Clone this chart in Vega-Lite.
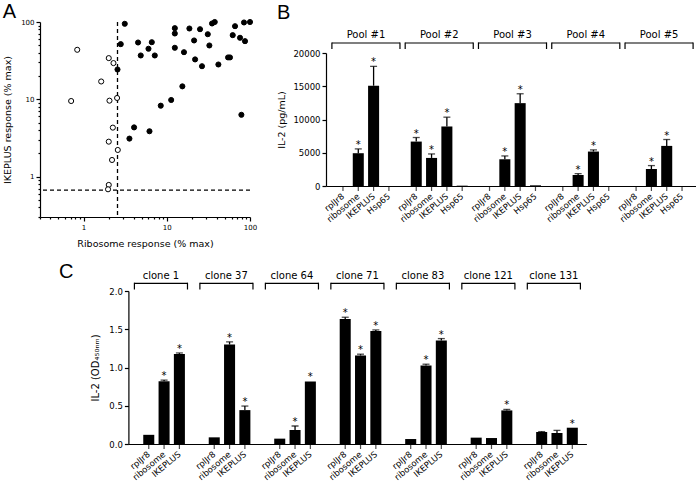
{
  "$schema": "https://vega.github.io/schema/vega-lite/v6.json",
  "padding": {"left": 2, "top": 1, "right": 0, "bottom": 0},
  "config": {
    "view": {"stroke": null},
    "font": "DejaVu Sans",
    "axis": {"grid": false, "domainColor": "black", "domainWidth": 1.2, "tickColor": "black", "tickWidth": 1.2, "labelColor": "black", "titleColor": "black", "labelFont": "DejaVu Sans", "titleFont": "DejaVu Sans", "titleFontWeight": "normal", "labelFontSize": 8, "titleFontSize": 9.5},
    "title": {"font": "Liberation Sans", "fontSize": 20, "fontWeight": "normal", "anchor": "start", "frame": "bounds", "color": "black", "baseline": "alphabetic"},
    "text": {"font": "DejaVu Sans", "color": "black"}
  },
  "datasets": {
    "scatter": [
      {"ribosome": 0.84, "ikeplus": 43.7, "group": "open"},
      {"ribosome": 0.71, "ikeplus": 9.5, "group": "open"},
      {"ribosome": 2.01, "ikeplus": 34.1, "group": "open"},
      {"ribosome": 2.29, "ikeplus": 29.4, "group": "open"},
      {"ribosome": 1.63, "ikeplus": 17.0, "group": "open"},
      {"ribosome": 2.05, "ikeplus": 9.6, "group": "open"},
      {"ribosome": 2.53, "ikeplus": 10.4, "group": "open"},
      {"ribosome": 2.25, "ikeplus": 4.3, "group": "open"},
      {"ribosome": 2.01, "ikeplus": 2.83, "group": "open"},
      {"ribosome": 2.58, "ikeplus": 2.21, "group": "open"},
      {"ribosome": 2.2, "ikeplus": 1.64, "group": "open"},
      {"ribosome": 2.01, "ikeplus": 0.78, "group": "open"},
      {"ribosome": 1.97, "ikeplus": 0.685, "group": "open"},
      {"ribosome": 3.13, "ikeplus": 94.8, "group": "filled"},
      {"ribosome": 2.8, "ikeplus": 51.7, "group": "filled"},
      {"ribosome": 2.56, "ikeplus": 24.3, "group": "filled"},
      {"ribosome": 4.52, "ikeplus": 54.3, "group": "filled"},
      {"ribosome": 4.87, "ikeplus": 36.9, "group": "filled"},
      {"ribosome": 6.03, "ikeplus": 45.1, "group": "filled"},
      {"ribosome": 6.61, "ikeplus": 54.8, "group": "filled"},
      {"ribosome": 7.18, "ikeplus": 36.9, "group": "filled"},
      {"ribosome": 12.5, "ikeplus": 83.2, "group": "filled"},
      {"ribosome": 12.5, "ikeplus": 71.0, "group": "filled"},
      {"ribosome": 12.5, "ikeplus": 46.4, "group": "filled"},
      {"ribosome": 16.1, "ikeplus": 40.7, "group": "filled"},
      {"ribosome": 18.7, "ikeplus": 82.4, "group": "filled"},
      {"ribosome": 21.3, "ikeplus": 57.7, "group": "filled"},
      {"ribosome": 25.1, "ikeplus": 80.7, "group": "filled"},
      {"ribosome": 21.9, "ikeplus": 32.8, "group": "filled"},
      {"ribosome": 26.5, "ikeplus": 26.8, "group": "filled"},
      {"ribosome": 31.1, "ikeplus": 69.5, "group": "filled"},
      {"ribosome": 32.5, "ikeplus": 49.7, "group": "filled"},
      {"ribosome": 35.0, "ikeplus": 95.7, "group": "filled"},
      {"ribosome": 37.7, "ikeplus": 100, "group": "filled"},
      {"ribosome": 41.7, "ikeplus": 28.2, "group": "filled"},
      {"ribosome": 54.5, "ikeplus": 34.8, "group": "filled"},
      {"ribosome": 57.5, "ikeplus": 34.8, "group": "filled"},
      {"ribosome": 62.0, "ikeplus": 67.6, "group": "filled"},
      {"ribosome": 66.1, "ikeplus": 88.3, "group": "filled"},
      {"ribosome": 75.9, "ikeplus": 62.5, "group": "filled"},
      {"ribosome": 84.7, "ikeplus": 98.6, "group": "filled"},
      {"ribosome": 87.1, "ikeplus": 56.5, "group": "filled"},
      {"ribosome": 100, "ikeplus": 100, "group": "filled"},
      {"ribosome": 78.8, "ikeplus": 6.3, "group": "filled"},
      {"ribosome": 15.4, "ikeplus": 14.7, "group": "filled"},
      {"ribosome": 11.3, "ikeplus": 9.8, "group": "filled"},
      {"ribosome": 8.47, "ikeplus": 8.27, "group": "filled"},
      {"ribosome": 4.05, "ikeplus": 4.33, "group": "filled"},
      {"ribosome": 6.2, "ikeplus": 3.86, "group": "filled"},
      {"ribosome": 3.56, "ikeplus": 3.1, "group": "filled"}
    ],
    "cutoffs": [{"ribosome_cutoff": 2.56, "ikeplus_cutoff": 0.67}],
    "pools": [
      {"pool": "Pool #1", "antigen": "rplJr8", "il2": 0, "upper": 0, "sig": false},
      {"pool": "Pool #1", "antigen": "ribosome", "il2": 4930, "upper": 5580, "sig": true},
      {"pool": "Pool #1", "antigen": "IKEPLUS", "il2": 15080, "upper": 17990, "sig": true},
      {"pool": "Pool #1", "antigen": "Hsp65", "il2": 0, "upper": 0, "sig": false},
      {"pool": "Pool #2", "antigen": "rplJr8", "il2": 6680, "upper": 7290, "sig": true},
      {"pool": "Pool #2", "antigen": "ribosome", "il2": 4220, "upper": 4820, "sig": true},
      {"pool": "Pool #2", "antigen": "IKEPLUS", "il2": 8950, "upper": 10350, "sig": true},
      {"pool": "Pool #2", "antigen": "Hsp65", "il2": 50, "upper": 50, "sig": false},
      {"pool": "Pool #3", "antigen": "rplJr8", "il2": 0, "upper": 0, "sig": false},
      {"pool": "Pool #3", "antigen": "ribosome", "il2": 4020, "upper": 4520, "sig": true},
      {"pool": "Pool #3", "antigen": "IKEPLUS", "il2": 12460, "upper": 13870, "sig": true},
      {"pool": "Pool #3", "antigen": "Hsp65", "il2": 100, "upper": 100, "sig": false},
      {"pool": "Pool #4", "antigen": "rplJr8", "il2": 0, "upper": 0, "sig": false},
      {"pool": "Pool #4", "antigen": "ribosome", "il2": 1660, "upper": 1860, "sig": true},
      {"pool": "Pool #4", "antigen": "IKEPLUS", "il2": 5180, "upper": 5430, "sig": true},
      {"pool": "Pool #4", "antigen": "Hsp65", "il2": 0, "upper": 0, "sig": false},
      {"pool": "Pool #5", "antigen": "rplJr8", "il2": 0, "upper": 0, "sig": false},
      {"pool": "Pool #5", "antigen": "ribosome", "il2": 2560, "upper": 3070, "sig": true},
      {"pool": "Pool #5", "antigen": "IKEPLUS", "il2": 6030, "upper": 6990, "sig": true},
      {"pool": "Pool #5", "antigen": "Hsp65", "il2": 0, "upper": 0, "sig": false}
    ],
    "clones": [
      {"clone": "clone 1", "antigen": "rplJr8", "od": 0.12, "upper": 0.12, "sig": false},
      {"clone": "clone 1", "antigen": "ribosome", "od": 0.82, "upper": 0.835, "sig": true},
      {"clone": "clone 1", "antigen": "IKEPLUS", "od": 1.178, "upper": 1.19, "sig": true},
      {"clone": "clone 37", "antigen": "rplJr8", "od": 0.087, "upper": 0.087, "sig": false},
      {"clone": "clone 37", "antigen": "ribosome", "od": 1.3, "upper": 1.335, "sig": true},
      {"clone": "clone 37", "antigen": "IKEPLUS", "od": 0.443, "upper": 0.496, "sig": true},
      {"clone": "clone 64", "antigen": "rplJr8", "od": 0.07, "upper": 0.07, "sig": false},
      {"clone": "clone 64", "antigen": "ribosome", "od": 0.183, "upper": 0.235, "sig": true},
      {"clone": "clone 64", "antigen": "IKEPLUS", "od": 0.817, "upper": 0.817, "sig": true},
      {"clone": "clone 71", "antigen": "rplJr8", "od": 1.635, "upper": 1.657, "sig": true},
      {"clone": "clone 71", "antigen": "ribosome", "od": 1.157, "upper": 1.174, "sig": true},
      {"clone": "clone 71", "antigen": "IKEPLUS", "od": 1.478, "upper": 1.491, "sig": true},
      {"clone": "clone 83", "antigen": "rplJr8", "od": 0.065, "upper": 0.065, "sig": false},
      {"clone": "clone 83", "antigen": "ribosome", "od": 1.026, "upper": 1.043, "sig": true},
      {"clone": "clone 83", "antigen": "IKEPLUS", "od": 1.352, "upper": 1.378, "sig": true},
      {"clone": "clone 121", "antigen": "rplJr8", "od": 0.083, "upper": 0.083, "sig": false},
      {"clone": "clone 121", "antigen": "ribosome", "od": 0.078, "upper": 0.078, "sig": false},
      {"clone": "clone 121", "antigen": "IKEPLUS", "od": 0.439, "upper": 0.452, "sig": true},
      {"clone": "clone 131", "antigen": "rplJr8", "od": 0.157, "upper": 0.162, "sig": false},
      {"clone": "clone 131", "antigen": "ribosome", "od": 0.143, "upper": 0.178, "sig": false},
      {"clone": "clone 131", "antigen": "IKEPLUS", "od": 0.213, "upper": 0.213, "sig": true}
    ]
  },
  "spacing": 14,
  "vconcat": [
    {
      "spacing": 19,
      "hconcat": [
        {
          "title": {"text": "A", "offset": -4.5},
          "width": 210,
          "height": 195,
          "layer": [
            {
              "data": {"name": "cutoffs"},
              "mark": {"type": "rule", "strokeDash": [4, 3], "strokeWidth": 1.3, "color": "black"},
              "encoding": {
                "x": {"field": "ribosome_cutoff", "type": "quantitative", "scale": {"type": "log", "domain": [0.3, 100], "nice": false},
                  "axis": {"title": "Ribosome response (% max)", "values": [0.3,0.4,0.5,0.6,0.7,0.8,0.9,1,2,3,4,5,6,7,8,9,10,20,30,40,50,60,70,80,90,100], "labelExpr": "datum.value == 1 || datum.value == 10 || datum.value == 100 ? datum.label : ''", "tickSize": {"condition": {"test": "datum.value == 1 || datum.value == 10 || datum.value == 100", "value": 4}, "value": 2}, "labelFontSize": 7, "labelOverlap": false, "labelFlush": false, "titlePadding": 8}}
              }
            },
            {
              "data": {"name": "cutoffs"},
              "mark": {"type": "rule", "strokeDash": [4, 3], "strokeWidth": 1.3, "color": "black"},
              "encoding": {
                "y": {"field": "ikeplus_cutoff", "type": "quantitative", "scale": {"type": "log", "domain": [0.3, 100], "nice": false},
                  "axis": {"title": "IKEPLUS response (% max)", "values": [0.3,0.4,0.5,0.6,0.7,0.8,0.9,1,2,3,4,5,6,7,8,9,10,20,30,40,50,60,70,80,90,100], "labelExpr": "datum.value == 1 || datum.value == 10 || datum.value == 100 ? datum.label : ''", "tickSize": {"condition": {"test": "datum.value == 1 || datum.value == 10 || datum.value == 100", "value": 4}, "value": 2}, "labelFontSize": 7, "labelOverlap": false, "labelFlush": false, "titlePadding": 8}}
              }
            },
            {
              "data": {"name": "scatter"},
              "mark": {"type": "circle", "size": 26, "stroke": "black", "strokeWidth": 1, "opacity": 1},
              "encoding": {
                "x": {"field": "ribosome", "type": "quantitative", "scale": {"type": "log", "domain": [0.3, 100], "nice": false},
                  "axis": {"title": "Ribosome response (% max)", "values": [0.3,0.4,0.5,0.6,0.7,0.8,0.9,1,2,3,4,5,6,7,8,9,10,20,30,40,50,60,70,80,90,100], "labelExpr": "datum.value == 1 || datum.value == 10 || datum.value == 100 ? datum.label : ''", "tickSize": {"condition": {"test": "datum.value == 1 || datum.value == 10 || datum.value == 100", "value": 4}, "value": 2}, "labelFontSize": 7, "labelOverlap": false, "labelFlush": false, "titlePadding": 8}},
                "y": {"field": "ikeplus", "type": "quantitative", "scale": {"type": "log", "domain": [0.3, 100], "nice": false},
                  "axis": {"title": "IKEPLUS response (% max)", "values": [0.3,0.4,0.5,0.6,0.7,0.8,0.9,1,2,3,4,5,6,7,8,9,10,20,30,40,50,60,70,80,90,100], "labelExpr": "datum.value == 1 || datum.value == 10 || datum.value == 100 ? datum.label : ''", "tickSize": {"condition": {"test": "datum.value == 1 || datum.value == 10 || datum.value == 100", "value": 4}, "value": 2}, "labelFontSize": 7, "labelOverlap": false, "labelFlush": false, "titlePadding": 8}},
                "fill": {"field": "group", "type": "nominal", "scale": {"domain": ["filled", "open"], "range": ["black", "white"]}, "legend": null}
              }
            }
          ]
        },
        {
          "title": {"text": "B", "offset": -1},
          "width": 373,
          "height": 164,
          "data": {"name": "pools"},
          "layer": [
            {
              "mark": {"type": "bar", "color": "black"},
              "encoding": {
                "x": {"field": "pool", "type": "nominal", "sort": ["Pool #1", "Pool #2", "Pool #3", "Pool #4", "Pool #5"], "scale": {"paddingInner": 0.164, "paddingOuter": 0.127}, "axis": {"title": null, "labels": false, "ticks": false, "domain": true}},
                "xOffset": {"field": "antigen", "type": "nominal", "sort": ["rplJr8", "ribosome", "IKEPLUS", "Hsp65"], "scale": {"paddingInner": 0.28, "paddingOuter": 0.14}},
                "y": {"field": "il2", "type": "quantitative", "scale": {"domain": [0, 20000], "nice": false, "range": [164, 31]}, "axis": {"title": "IL-2 (pg/mL)", "values": [0, 5000, 10000, 15000, 20000], "format": "d", "tickSize": 4, "labelFontSize": 8.5, "titlePadding": 6, "labelOverlap": false}}
              }
            },
            {
              "transform": [{"filter": "datum.upper > datum.il2"}],
              "mark": {"type": "rule", "color": "black", "strokeWidth": 1.3},
              "encoding": {
                "x": {"field": "pool", "type": "nominal", "sort": ["Pool #1", "Pool #2", "Pool #3", "Pool #4", "Pool #5"], "axis": {"title": null, "labels": false, "ticks": false, "domain": true}},
                "xOffset": {"field": "antigen", "type": "nominal", "sort": ["rplJr8", "ribosome", "IKEPLUS", "Hsp65"]},
                "y": {"field": "il2", "type": "quantitative", "scale": {"domain": [0, 20000], "nice": false, "range": [164, 31]}, "axis": {"title": "IL-2 (pg/mL)", "values": [0, 5000, 10000, 15000, 20000], "format": "d", "tickSize": 4, "labelFontSize": 8.5, "titlePadding": 6, "labelOverlap": false}},
                "y2": {"field": "upper"}
              }
            },
            {
              "transform": [{"filter": "datum.upper > datum.il2"}],
              "mark": {"type": "tick", "orient": "horizontal", "color": "black", "size": 7, "thickness": 1.3},
              "encoding": {
                "x": {"field": "pool", "type": "nominal", "sort": ["Pool #1", "Pool #2", "Pool #3", "Pool #4", "Pool #5"], "axis": {"title": null, "labels": false, "ticks": false, "domain": true}},
                "xOffset": {"field": "antigen", "type": "nominal", "sort": ["rplJr8", "ribosome", "IKEPLUS", "Hsp65"]},
                "y": {"field": "upper", "type": "quantitative", "scale": {"domain": [0, 20000], "nice": false, "range": [164, 31]}, "axis": {"title": "IL-2 (pg/mL)", "values": [0, 5000, 10000, 15000, 20000], "format": "d", "tickSize": 4, "labelFontSize": 8.5, "titlePadding": 6, "labelOverlap": false}}
              }
            },
            {
              "transform": [{"filter": "datum.sig"}],
              "mark": {"type": "text", "text": "*", "fontSize": 10, "baseline": "alphabetic", "yOffset": -1, "color": "black"},
              "encoding": {
                "x": {"field": "pool", "type": "nominal", "sort": ["Pool #1", "Pool #2", "Pool #3", "Pool #4", "Pool #5"], "axis": {"title": null, "labels": false, "ticks": false, "domain": true}},
                "xOffset": {"field": "antigen", "type": "nominal", "sort": ["rplJr8", "ribosome", "IKEPLUS", "Hsp65"]},
                "y": {"field": "upper", "type": "quantitative", "scale": {"domain": [0, 20000], "nice": false, "range": [164, 31]}, "axis": {"title": "IL-2 (pg/mL)", "values": [0, 5000, 10000, 15000, 20000], "format": "d", "tickSize": 4, "labelFontSize": 8.5, "titlePadding": 6, "labelOverlap": false}}
              }
            },
            {
              "mark": {"type": "tick", "orient": "vertical", "color": "black", "size": 5, "thickness": 1.2, "yOffset": 2.5},
              "encoding": {
                "x": {"field": "pool", "type": "nominal", "sort": ["Pool #1", "Pool #2", "Pool #3", "Pool #4", "Pool #5"], "axis": {"title": null, "labels": false, "ticks": false, "domain": true}},
                "xOffset": {"field": "antigen", "type": "nominal", "sort": ["rplJr8", "ribosome", "IKEPLUS", "Hsp65"]},
                "y": {"datum": 0, "type": "quantitative", "scale": {"domain": [0, 20000], "nice": false, "range": [164, 31]}, "axis": {"title": "IL-2 (pg/mL)", "values": [0, 5000, 10000, 15000, 20000], "format": "d", "tickSize": 4, "labelFontSize": 8.5, "titlePadding": 6, "labelOverlap": false}}
              }
            },
            {
              "mark": {"type": "text", "angle": -40, "align": "right", "baseline": "middle", "fontSize": 8.5, "yOffset": 9, "color": "black"},
              "encoding": {
                "x": {"field": "pool", "type": "nominal", "sort": ["Pool #1", "Pool #2", "Pool #3", "Pool #4", "Pool #5"], "axis": {"title": null, "labels": false, "ticks": false, "domain": true}},
                "xOffset": {"field": "antigen", "type": "nominal", "sort": ["rplJr8", "ribosome", "IKEPLUS", "Hsp65"]},
                "y": {"datum": 0, "type": "quantitative", "scale": {"domain": [0, 20000], "nice": false, "range": [164, 31]}, "axis": {"title": "IL-2 (pg/mL)", "values": [0, 5000, 10000, 15000, 20000], "format": "d", "tickSize": 4, "labelFontSize": 8.5, "titlePadding": 6, "labelOverlap": false}},
                "text": {"field": "antigen"}
              }
            },
            {
              "transform": [{"filter": "datum.antigen == 'rplJr8'"}],
              "mark": {"type": "bar", "color": "black", "width": {"band": 1.11}, "yOffset": -10.6, "y2Offset": -9.4},
              "encoding": {
                "x": {"field": "pool", "type": "nominal", "sort": ["Pool #1", "Pool #2", "Pool #3", "Pool #4", "Pool #5"], "axis": {"title": null, "labels": false, "ticks": false, "domain": true}},
                "y": {"datum": 20000, "type": "quantitative", "scale": {"domain": [0, 20000], "nice": false, "range": [164, 31]}, "axis": {"title": "IL-2 (pg/mL)", "values": [0, 5000, 10000, 15000, 20000], "format": "d", "tickSize": 4, "labelFontSize": 8.5, "titlePadding": 6, "labelOverlap": false}},
                "y2": {"datum": 20000}
              }
            },
            {
              "transform": [{"filter": "datum.antigen == 'rplJr8'"}],
              "mark": {"type": "rule", "color": "black", "strokeWidth": 1.2, "xOffset": -3.4, "yOffset": -10.6, "y2Offset": -4},
              "encoding": {
                "x": {"field": "pool", "type": "nominal", "sort": ["Pool #1", "Pool #2", "Pool #3", "Pool #4", "Pool #5"], "bandPosition": 0, "axis": {"title": null, "labels": false, "ticks": false, "domain": true}},
                "y": {"datum": 20000, "type": "quantitative", "scale": {"domain": [0, 20000], "nice": false, "range": [164, 31]}, "axis": {"title": "IL-2 (pg/mL)", "values": [0, 5000, 10000, 15000, 20000], "format": "d", "tickSize": 4, "labelFontSize": 8.5, "titlePadding": 6, "labelOverlap": false}},
                "y2": {"datum": 20000}
              }
            },
            {
              "transform": [{"filter": "datum.antigen == 'rplJr8'"}],
              "mark": {"type": "rule", "color": "black", "strokeWidth": 1.2, "xOffset": 3.4, "yOffset": -10.6, "y2Offset": -4},
              "encoding": {
                "x": {"field": "pool", "type": "nominal", "sort": ["Pool #1", "Pool #2", "Pool #3", "Pool #4", "Pool #5"], "bandPosition": 1, "axis": {"title": null, "labels": false, "ticks": false, "domain": true}},
                "y": {"datum": 20000, "type": "quantitative", "scale": {"domain": [0, 20000], "nice": false, "range": [164, 31]}, "axis": {"title": "IL-2 (pg/mL)", "values": [0, 5000, 10000, 15000, 20000], "format": "d", "tickSize": 4, "labelFontSize": 8.5, "titlePadding": 6, "labelOverlap": false}},
                "y2": {"datum": 20000}
              }
            },
            {
              "transform": [{"filter": "datum.antigen == 'rplJr8'"}],
              "mark": {"type": "text", "fontSize": 10, "baseline": "middle", "yOffset": -18, "color": "black"},
              "encoding": {
                "x": {"field": "pool", "type": "nominal", "sort": ["Pool #1", "Pool #2", "Pool #3", "Pool #4", "Pool #5"], "axis": {"title": null, "labels": false, "ticks": false, "domain": true}},
                "y": {"datum": 20000, "type": "quantitative", "scale": {"domain": [0, 20000], "nice": false, "range": [164, 31]}, "axis": {"title": "IL-2 (pg/mL)", "values": [0, 5000, 10000, 15000, 20000], "format": "d", "tickSize": 4, "labelFontSize": 8.5, "titlePadding": 6, "labelOverlap": false}},
                "text": {"field": "pool"}
              }
            }
          ]
        }
      ]
    },
    {
      "title": {"text": "C", "offset": 2, "dx": 19, "dy": 13},
      "width": 547,
      "height": 153,
      "data": {"name": "clones"},
      "layer": [
        {
          "mark": {"type": "bar", "color": "black"},
          "encoding": {
            "x": {"field": "clone", "type": "nominal", "sort": ["clone 1", "clone 37", "clone 64", "clone 71", "clone 83", "clone 121", "clone 131"], "scale": {"paddingInner": 0.394, "paddingOuter": 0.194, "range": [88.4, 546.4]}, "axis": {"title": null, "labels": false, "ticks": false, "domain": true}},
            "xOffset": {"field": "antigen", "type": "nominal", "sort": ["rplJr8", "ribosome", "IKEPLUS"], "scale": {"paddingInner": 0.22, "paddingOuter": 0.11}},
            "y": {"field": "od", "type": "quantitative", "scale": {"domain": [0, 2], "nice": false}, "axis": {"title": "IL-2 (OD₄₅₀ₙₘ)", "values": [0, 0.5, 1, 1.5, 2], "format": ".1f", "tickSize": 4, "labelFontSize": 8.5, "titlePadding": 8, "titleFontSize": 10, "offset": -88.4, "labelOverlap": false}}
          }
        },
        {
          "transform": [{"filter": "datum.upper > datum.od"}],
          "mark": {"type": "rule", "color": "black", "strokeWidth": 1.3},
          "encoding": {
            "x": {"field": "clone", "type": "nominal", "sort": ["clone 1", "clone 37", "clone 64", "clone 71", "clone 83", "clone 121", "clone 131"], "axis": {"title": null, "labels": false, "ticks": false, "domain": true}},
            "xOffset": {"field": "antigen", "type": "nominal", "sort": ["rplJr8", "ribosome", "IKEPLUS"]},
            "y": {"field": "od", "type": "quantitative", "axis": {"title": "IL-2 (OD₄₅₀ₙₘ)", "values": [0, 0.5, 1, 1.5, 2], "format": ".1f", "tickSize": 4, "labelFontSize": 8.5, "titlePadding": 8, "titleFontSize": 10, "offset": -88.4, "labelOverlap": false}},
            "y2": {"field": "upper"}
          }
        },
        {
          "transform": [{"filter": "datum.upper > datum.od"}],
          "mark": {"type": "tick", "orient": "horizontal", "color": "black", "size": 7, "thickness": 1.3},
          "encoding": {
            "x": {"field": "clone", "type": "nominal", "sort": ["clone 1", "clone 37", "clone 64", "clone 71", "clone 83", "clone 121", "clone 131"], "axis": {"title": null, "labels": false, "ticks": false, "domain": true}},
            "xOffset": {"field": "antigen", "type": "nominal", "sort": ["rplJr8", "ribosome", "IKEPLUS"]},
            "y": {"field": "upper", "type": "quantitative", "axis": {"title": "IL-2 (OD₄₅₀ₙₘ)", "values": [0, 0.5, 1, 1.5, 2], "format": ".1f", "tickSize": 4, "labelFontSize": 8.5, "titlePadding": 8, "titleFontSize": 10, "offset": -88.4, "labelOverlap": false}}
          }
        },
        {
          "transform": [{"filter": "datum.sig"}],
          "mark": {"type": "text", "text": "*", "fontSize": 10, "baseline": "alphabetic", "yOffset": -1, "color": "black"},
          "encoding": {
            "x": {"field": "clone", "type": "nominal", "sort": ["clone 1", "clone 37", "clone 64", "clone 71", "clone 83", "clone 121", "clone 131"], "axis": {"title": null, "labels": false, "ticks": false, "domain": true}},
            "xOffset": {"field": "antigen", "type": "nominal", "sort": ["rplJr8", "ribosome", "IKEPLUS"]},
            "y": {"field": "upper", "type": "quantitative", "axis": {"title": "IL-2 (OD₄₅₀ₙₘ)", "values": [0, 0.5, 1, 1.5, 2], "format": ".1f", "tickSize": 4, "labelFontSize": 8.5, "titlePadding": 8, "titleFontSize": 10, "offset": -88.4, "labelOverlap": false}}
          }
        },
        {
          "mark": {"type": "tick", "orient": "vertical", "color": "black", "size": 5, "thickness": 1.2, "yOffset": 2.5},
          "encoding": {
            "x": {"field": "clone", "type": "nominal", "sort": ["clone 1", "clone 37", "clone 64", "clone 71", "clone 83", "clone 121", "clone 131"], "axis": {"title": null, "labels": false, "ticks": false, "domain": true}},
            "xOffset": {"field": "antigen", "type": "nominal", "sort": ["rplJr8", "ribosome", "IKEPLUS"]},
            "y": {"datum": 0, "type": "quantitative", "axis": {"title": "IL-2 (OD₄₅₀ₙₘ)", "values": [0, 0.5, 1, 1.5, 2], "format": ".1f", "tickSize": 4, "labelFontSize": 8.5, "titlePadding": 8, "titleFontSize": 10, "offset": -88.4, "labelOverlap": false}}
          }
        },
        {
          "mark": {"type": "text", "angle": -40, "align": "right", "baseline": "middle", "fontSize": 8.5, "yOffset": 9, "color": "black"},
          "encoding": {
            "x": {"field": "clone", "type": "nominal", "sort": ["clone 1", "clone 37", "clone 64", "clone 71", "clone 83", "clone 121", "clone 131"], "axis": {"title": null, "labels": false, "ticks": false, "domain": true}},
            "xOffset": {"field": "antigen", "type": "nominal", "sort": ["rplJr8", "ribosome", "IKEPLUS"]},
            "y": {"datum": 0, "type": "quantitative", "axis": {"title": "IL-2 (OD₄₅₀ₙₘ)", "values": [0, 0.5, 1, 1.5, 2], "format": ".1f", "tickSize": 4, "labelFontSize": 8.5, "titlePadding": 8, "titleFontSize": 10, "offset": -88.4, "labelOverlap": false}},
            "text": {"field": "antigen"}
          }
        },
        {
          "transform": [{"filter": "datum.antigen == 'rplJr8'"}],
          "mark": {"type": "bar", "color": "black", "width": {"band": 1.34}, "yOffset": -8.3, "y2Offset": -7.1},
          "encoding": {
            "x": {"field": "clone", "type": "nominal", "sort": ["clone 1", "clone 37", "clone 64", "clone 71", "clone 83", "clone 121", "clone 131"], "axis": {"title": null, "labels": false, "ticks": false, "domain": true}},
            "y": {"datum": 2, "type": "quantitative", "axis": {"title": "IL-2 (OD₄₅₀ₙₘ)", "values": [0, 0.5, 1, 1.5, 2], "format": ".1f", "tickSize": 4, "labelFontSize": 8.5, "titlePadding": 8, "titleFontSize": 10, "offset": -88.4, "labelOverlap": false}},
            "y2": {"datum": 2}
          }
        },
        {
          "transform": [{"filter": "datum.antigen == 'rplJr8'"}],
          "mark": {"type": "rule", "color": "black", "strokeWidth": 1.2, "xOffset": -6.7, "yOffset": -8.3, "y2Offset": -1.5},
          "encoding": {
            "x": {"field": "clone", "type": "nominal", "sort": ["clone 1", "clone 37", "clone 64", "clone 71", "clone 83", "clone 121", "clone 131"], "bandPosition": 0, "axis": {"title": null, "labels": false, "ticks": false, "domain": true}},
            "y": {"datum": 2, "type": "quantitative", "axis": {"title": "IL-2 (OD₄₅₀ₙₘ)", "values": [0, 0.5, 1, 1.5, 2], "format": ".1f", "tickSize": 4, "labelFontSize": 8.5, "titlePadding": 8, "titleFontSize": 10, "offset": -88.4, "labelOverlap": false}},
            "y2": {"datum": 2}
          }
        },
        {
          "transform": [{"filter": "datum.antigen == 'rplJr8'"}],
          "mark": {"type": "rule", "color": "black", "strokeWidth": 1.2, "xOffset": 6.7, "yOffset": -8.3, "y2Offset": -1.5},
          "encoding": {
            "x": {"field": "clone", "type": "nominal", "sort": ["clone 1", "clone 37", "clone 64", "clone 71", "clone 83", "clone 121", "clone 131"], "bandPosition": 1, "axis": {"title": null, "labels": false, "ticks": false, "domain": true}},
            "y": {"datum": 2, "type": "quantitative", "axis": {"title": "IL-2 (OD₄₅₀ₙₘ)", "values": [0, 0.5, 1, 1.5, 2], "format": ".1f", "tickSize": 4, "labelFontSize": 8.5, "titlePadding": 8, "titleFontSize": 10, "offset": -88.4, "labelOverlap": false}},
            "y2": {"datum": 2}
          }
        },
        {
          "transform": [{"filter": "datum.antigen == 'rplJr8'"}],
          "mark": {"type": "text", "fontSize": 10, "baseline": "middle", "yOffset": -15, "color": "black"},
          "encoding": {
            "x": {"field": "clone", "type": "nominal", "sort": ["clone 1", "clone 37", "clone 64", "clone 71", "clone 83", "clone 121", "clone 131"], "axis": {"title": null, "labels": false, "ticks": false, "domain": true}},
            "y": {"datum": 2, "type": "quantitative", "axis": {"title": "IL-2 (OD₄₅₀ₙₘ)", "values": [0, 0.5, 1, 1.5, 2], "format": ".1f", "tickSize": 4, "labelFontSize": 8.5, "titlePadding": 8, "titleFontSize": 10, "offset": -88.4, "labelOverlap": false}},
            "text": {"field": "clone"}
          }
        }
      ]
    }
  ]
}
